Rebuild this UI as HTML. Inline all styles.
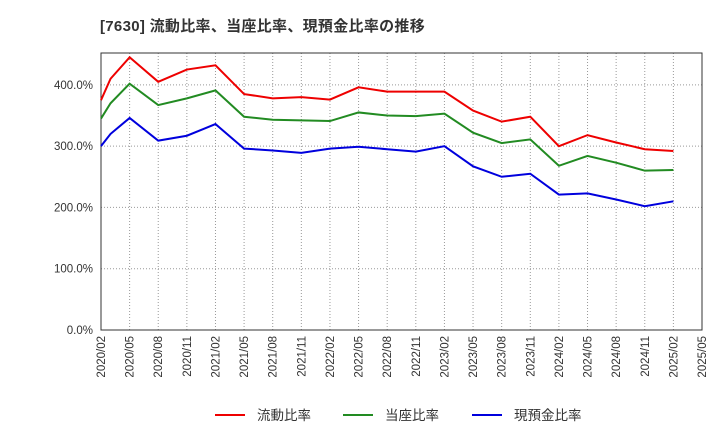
<!DOCTYPE html>
<html><head><meta charset="utf-8"><style>
body{margin:0;background:#fff;font-family:"Liberation Sans","Noto Sans CJK JP",sans-serif;}
</style></head><body>
<svg width="720" height="440" xmlns="http://www.w3.org/2000/svg" id="chart" font-family="Liberation Sans, Noto Sans CJK JP, sans-serif">
<text x="100" y="31" font-size="15" font-weight="bold" fill="#333" letter-spacing="0.3">[7630]  流動比率、当座比率、現預金比率の推移</text>
</svg>
<script>
const months=[0,1,3,6,9,12,15,18,21,24,27,30,33,36,39,42,45,48,51,54,57,60];
const currentRatio=[375,410,445,405,425,432,385,378,380,376,396,389,389,389,358,340,348,300,318,306,295,292];
const quickRatio=[345,370,402,367,378,391,348,343,342,341,355,350,349,353,322,305,311,268,284,273,260,261];
const cashRatio=[300,320,346,309,317,336,296,293,289,296,299,295,291,300,267,250,255,221,223,213,202,210];
const yTicks=[0,100,200,300,400];
const xLabels=["2020/02","2020/05","2020/08","2020/11","2021/02","2021/05","2021/08","2021/11","2022/02","2022/05","2022/08","2022/11","2023/02","2023/05","2023/08","2023/11","2024/02","2024/05","2024/08","2024/11","2025/02","2025/05"];
const L=101,R=702,T=53,B=330;
const X=m=>L+(R-L)*m/63;
const Y=v=>B-(B-T)*v/452;
const svg=document.getElementById('chart');
const NS="http://www.w3.org/2000/svg";
function el(t,a){const e=document.createElementNS(NS,t);for(const k in a)e.setAttribute(k,a[k]);svg.appendChild(e);return e;}
yTicks.forEach(v=>{
 const g=el('line',{x1:L,x2:R,y1:Y(v),y2:Y(v),stroke:'#999','stroke-dasharray':'1,2'});
 
 
 const t=el('text',{x:L-8,y:Y(v)+4,'font-size':11.5,'text-anchor':'end',fill:'#333'});
 t.textContent=v.toFixed(1)+'%';
 
 
});
xLabels.forEach((s,i)=>{
 const x=X(i*3);
 const g=el('line',{x1:x,x2:x,y1:T,y2:B,stroke:'#999','stroke-dasharray':'1,2'});
 
 
 const t=el('text',{x:x+4,y:B+6,'font-size':11.5,'text-anchor':'end',fill:'#333',transform:`rotate(-90 ${x+4} ${B+6})`});
 t.textContent=s;
 
 
});
const frame=el('rect',{x:L,y:T,width:R-L,height:B-T,fill:'none',stroke:'#333'});


function series(vals,color,name){
 const p=el('polyline',{points:vals.map((v,i)=>X(months[i])+','+Y(v)).join(' '),fill:'none',stroke:color,'stroke-width':2});
 
 
}
series(currentRatio,'#e00','current-ratio-line');
series(quickRatio,'#228b22','quick-ratio-line');
series(cashRatio,'#00d','cash-ratio-line');
[['流動比率','#e00',215],['当座比率','#228b22',343],['現預金比率','#00d',472]].forEach(([n,c,x])=>{
 const l=el('line',{x1:x,x2:x+30,y1:415,y2:415,stroke:c,'stroke-width':2});
 
 
 const t=el('text',{x:x+42,y:420,'font-size':13.5,fill:'#333'});
 t.textContent=n;
 
 
});
</script>
</body></html>
